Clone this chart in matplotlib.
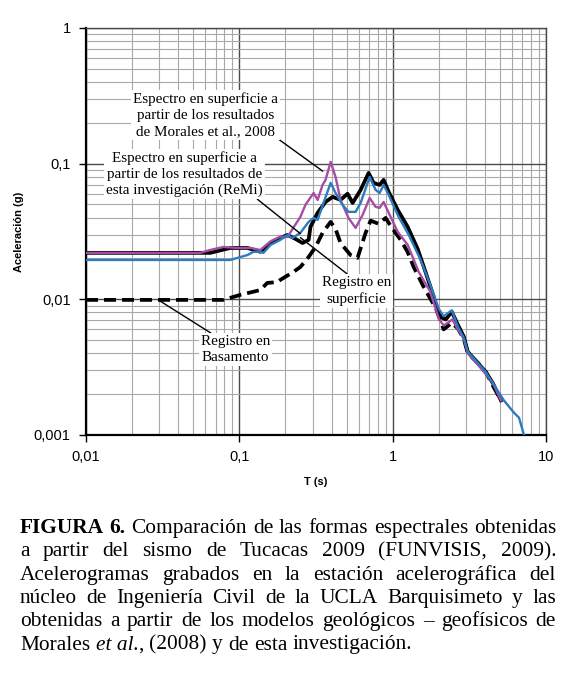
"""
Espectros de respuesta - sismo de Tucacas 2009
Eje x: periodo T (s), eje y: aceleración espectral (g), ambos logarítmicos
"""

import matplotlib
matplotlib.use('Agg')
import matplotlib.pyplot as plt
from matplotlib.ticker import FixedLocator, LogLocator, NullFormatter

# Datos
# Registro en superficie (negro continuo)
t_sup = [0.01, 0.0646, 0.0873, 0.113, 0.137, 0.16, 0.185, 0.206, 0.232, 0.258,
         0.283, 0.291, 0.324, 0.365, 0.406, 0.457, 0.508, 0.548, 0.618, 0.697,
         0.751, 0.822, 0.873, 0.942, 1.079, 1.253, 1.456, 1.65, 1.85, 1.97,
         2.15, 2.22, 2.43, 2.66, 2.91, 3.09, 3.59, 4.06, 4.51, 5.08]
a_sup = [0.022, 0.022, 0.0239, 0.0239, 0.0224, 0.026, 0.0283, 0.0298, 0.0279, 0.026,
         0.0274, 0.0342, 0.0434, 0.0522, 0.0569, 0.054, 0.060, 0.0513, 0.064, 0.0854,
         0.0721, 0.0697, 0.0759, 0.0619, 0.0456, 0.0342, 0.0235, 0.0155, 0.0105, 0.0082,
         0.0072, 0.0071, 0.0081, 0.0065, 0.0053, 0.0041, 0.0034, 0.0029, 0.0024, 0.0018]

# Registro en basamento (negro discontinuo)
t_bas = [0.01, 0.0556, 0.0786, 0.102, 0.113, 0.137, 0.152, 0.177, 0.185, 0.225,
         0.25, 0.283, 0.314, 0.349, 0.394, 0.424, 0.457, 0.531, 0.59, 0.666,
         0.718, 0.81, 0.90, 0.97, 1.128, 1.25, 1.371, 1.595, 1.91, 2.15,
         2.43, 2.66, 2.91, 3.09, 3.59, 4.06, 4.51, 5.08]
a_bas = [0.0099, 0.0099, 0.0099, 0.0108, 0.0111, 0.0117, 0.0132, 0.0134, 0.0139, 0.0159,
         0.0173, 0.0205, 0.0243, 0.0309, 0.0372, 0.033, 0.026, 0.0212, 0.0202, 0.0309,
         0.038, 0.036, 0.0398, 0.0347, 0.0274, 0.0224, 0.0173, 0.0123, 0.0086, 0.006,
         0.0067, 0.0061, 0.0051, 0.0040, 0.0034, 0.0029, 0.0023, 0.0018]

# Morales et al., 2008 (magenta)
t_mor = [0.01, 0.0556, 0.0646, 0.0786, 0.097, 0.118, 0.137, 0.16, 0.185, 0.206,
         0.228, 0.25, 0.27, 0.305, 0.324, 0.349, 0.365, 0.394, 0.424, 0.457,
         0.515, 0.573, 0.637, 0.708, 0.774, 0.822, 0.873, 0.942, 1.079, 1.253,
         1.479, 1.75, 2.0, 2.15, 2.45, 2.66, 2.91, 3.09, 3.59, 4.06, 4.51, 5.08]
a_mor = [0.022, 0.022, 0.0231, 0.0243, 0.0239, 0.0239, 0.0231, 0.0268, 0.029, 0.0288,
         0.0345, 0.0405, 0.0497, 0.0608, 0.054, 0.0697, 0.0759, 0.103, 0.0798, 0.054,
         0.0398, 0.0336, 0.0419, 0.0559, 0.048, 0.0472, 0.0522, 0.0434, 0.0314, 0.0252,
         0.0159, 0.0115, 0.0072, 0.0064, 0.0071, 0.0060, 0.0051, 0.0040, 0.0033, 0.0028, 0.0024, 0.0018]

# Esta investigación, ReMi (azul)
t_remi = [0.01, 0.0873, 0.113, 0.1235, 0.137, 0.1435, 0.16, 0.185, 0.206, 0.222,
          0.25, 0.283, 0.305, 0.324, 0.354, 0.394, 0.424, 0.471, 0.515, 0.573,
          0.618, 0.708, 0.774, 0.822, 0.873, 0.942, 1.094, 1.273, 1.523, 1.75,
          2.0, 2.15, 2.43, 2.66, 2.91, 3.09, 3.59, 4.06, 4.51, 5.31, 6.18, 6.67, 7.18]
a_remi = [0.0195, 0.0195, 0.0212, 0.0224, 0.0224, 0.022, 0.0252, 0.0274, 0.0298, 0.0283,
          0.0309, 0.0372, 0.0398, 0.0385, 0.0513, 0.0721, 0.0608, 0.0497, 0.0441, 0.0441,
          0.0513, 0.0798, 0.064, 0.0608, 0.0697, 0.0588, 0.0405, 0.0298, 0.0195, 0.013,
          0.0085, 0.0075, 0.0083, 0.0063, 0.0052, 0.0041, 0.0034, 0.0029, 0.0024, 0.0018,
          0.00146, 0.00134, 0.0010]

x_ticks = [0.01, 0.1, 1, 10]
x_labels = ['0,01', '0,1', '1', '10']
y_ticks = [0.001, 0.01, 0.1, 1]
y_labels = ['0,001', '0,01', '0,1', '1']

caption_lines = [
    [[('FIGURA', 'bold')], [('6.', 'bold')], [('Comparación', 'normal')], [('de', 'normal')],
     [('las', 'normal')], [('formas', 'normal')], [('espectrales', 'normal')], [('obtenidas', 'normal')]],
    'a partir del sismo de Tucacas 2009 (FUNVISIS, 2009).',
    'Acelerogramas grabados en la estación acelerográfica del',
    'núcleo de Ingeniería Civil de la UCLA Barquisimeto y las',
    'obtenidas a partir de los modelos geológicos – geofísicos de',
    [[('Morales', 'normal')], [('et al.', 'italic'), (',', 'normal')], [('(2008)', 'normal')],
     [('y', 'normal')], [('de', 'normal')], [('esta', 'normal')], [('investigación.', 'normal')]],
]

SERIF = ['Liberation Serif', 'DejaVu Serif']
SANS = ['Liberation Sans', 'DejaVu Sans']

fig = plt.figure(figsize=(5.7, 6.77), dpi=100)
ax = fig.add_axes([0.1509, 0.3575, 0.807, 0.6012])

ax.plot(t_sup, a_sup, color='black', lw=2.7, zorder=3)
ax.plot(t_bas, a_bas, color='black', lw=2.7, ls=(0, (3.2, 1.6)), zorder=3)
ax.plot(t_mor, a_mor, color='#a64ca6', lw=1.7, zorder=4)
ax.plot(t_remi, a_remi, color='#2a7bc0', lw=1.7, zorder=5)

ax.set_xscale('log')
ax.set_yscale('log')
ax.set_xlim(0.01, 10)
ax.set_ylim(0.001, 1)

ax.xaxis.set_major_locator(FixedLocator(x_ticks))
ax.yaxis.set_major_locator(FixedLocator(y_ticks))
ax.set_xticklabels(x_labels, family=SANS, fontsize=10.5)
ax.set_yticklabels(y_labels, family=SANS, fontsize=10.5)
ax.xaxis.set_minor_locator(LogLocator(base=10, subs=range(2, 10), numticks=20))
ax.yaxis.set_minor_locator(LogLocator(base=10, subs=range(2, 10), numticks=20))
ax.xaxis.set_minor_formatter(NullFormatter())
ax.yaxis.set_minor_formatter(NullFormatter())
ax.tick_params(which='major', length=5, width=1, direction='out', pad=6)
ax.tick_params(which='minor', length=0)

ax.grid(which='major', color='#4a4a4a', lw=1.0)
ax.grid(which='minor', color='#a8a8a8', lw=0.8)
ax.set_axisbelow(True)
for side in ['left', 'bottom']:
    ax.spines[side].set_linewidth(1.6)
    ax.spines[side].set_color('black')
for side in ['top', 'right']:
    ax.spines[side].set_linewidth(1.0)
    ax.spines[side].set_color('#4a4a4a')

ax.set_xlabel('T (s)', family=SANS, fontsize=8, fontweight='bold', labelpad=9)
ax.set_ylabel('Aceleración (g)', family=SANS, fontsize=8, fontweight='bold', labelpad=7)

# Anotaciones
box = dict(facecolor='white', edgecolor='none', pad=1.5)
line = dict(arrowstyle='-', color='black', lw=1.0, shrinkA=0, shrinkB=0)
ann_kw = dict(ha='center', va='center', family=SERIF, fontsize=10.9, linespacing=1.3,
              bbox=box, zorder=10)

ax.annotate('Espectro en superficie a\npartir de los resultados\nde Morales et al., 2008',
            xy=(0.35, 0.088), xytext=(0.060, 0.2285),
            arrowprops=dict(line, relpos=(0.97, 0.05)), **ann_kw)
ax.annotate('Espectro en superficie a\npartir de los resultados de\nesta investigación (ReMi)',
            xy=(0.25, 0.0305), xytext=(0.0437, 0.084),
            arrowprops=dict(line, relpos=(0.95, 0.0)), **ann_kw)
ax.annotate('Registro en\nsuperficie',
            xy=(0.25, 0.0285), xytext=(0.582, 0.01153),
            arrowprops=dict(line, relpos=(0.4, 1.0)), **ann_kw)
ax.annotate('Registro en\nBasamento',
            xy=(0.0296, 0.0099), xytext=(0.0942, 0.00424),
            arrowprops=dict(line, relpos=(0.2, 1.0)), **ann_kw)

# Leyenda de la figura, texto justificado
renderer = fig.canvas.get_renderer()
cap_size = 15.4
W = fig.bbox.width
H = fig.bbox.height
x_left, x_right = 20 / W, 556 / W
y_first = 1 - 533 / H
dy = 23.3 / H


def style_kw(style):
    if style == 'bold':
        return dict(fontweight='bold')
    if style == 'italic':
        return dict(fontstyle='italic')
    return {}


def text_width(s, style):
    t = fig.text(0, 0, s, family=SERIF, fontsize=cap_size, **style_kw(style))
    w = t.get_window_extent(renderer).width
    t.remove()
    return w / W


space_w = text_width('a b', 'normal') - text_width('ab', 'normal')

for i, ln in enumerate(caption_lines):
    if isinstance(ln, str):
        words = [[(w, 'normal')] for w in ln.split(' ')]
    else:
        words = ln
    widths = [sum(text_width(s, st) for s, st in w) for w in words]
    last = i == len(caption_lines) - 1
    if last:
        gap = space_w
    else:
        gap = (x_right - x_left - sum(widths)) / (len(words) - 1)
    x = x_left
    y = y_first - i * dy
    for w, wd in zip(words, widths):
        xx = x
        for s, st in w:
            fig.text(xx, y, s, family=SERIF, fontsize=cap_size, va='baseline', ha='left',
                     **style_kw(st))
            xx += text_width(s, st)
        x += wd + gap

fig.savefig('out.png', dpi=100)
